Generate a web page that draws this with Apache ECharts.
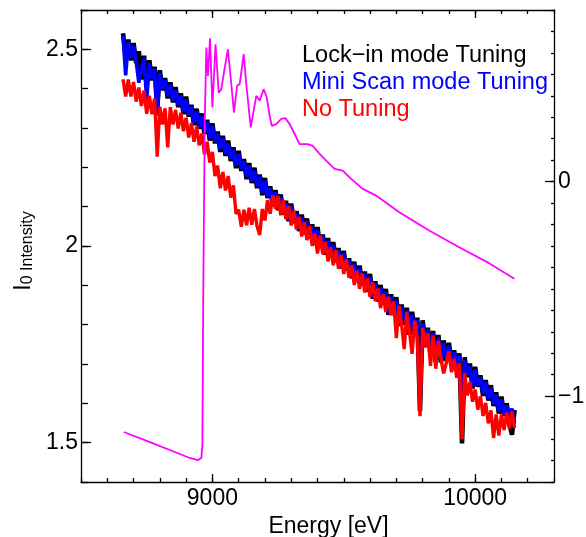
<!DOCTYPE html>
<html lang="en" style="background: #fff;height: 100%">
<head>
    <meta charset="utf-8"/>
    <title>I0 intensity vs energy</title>
    <script src="https://cdn.jsdelivr.net/npm/echarts@6/dist/echarts.min.js"></script>
</head>
<body style="margin: 0;height: 100%">
<div id="chart" style="width: 586px;height: 537px"></div>
<script>
    // energy grid of the three I0 scans [eV]
    const energy = [
        8660, 8670, 8680, 8690, 8700, 8710, 8720, 8730, 8740, 8750,
        8760, 8770, 8780, 8790, 8800, 8810, 8820, 8830, 8840, 8850,
        8860, 8870, 8880, 8890, 8900, 8910, 8920, 8930, 8940, 8950,
        8960, 8970, 8980, 8990, 9000, 9010, 9020, 9030, 9040, 9050,
        9060, 9070, 9080, 9090, 9100, 9110, 9120, 9130, 9140, 9150,
        9160, 9170, 9180, 9190, 9200, 9210, 9220, 9230, 9240, 9250,
        9260, 9270, 9280, 9290, 9300, 9310, 9320, 9330, 9340, 9350,
        9360, 9370, 9380, 9390, 9400, 9410, 9420, 9430, 9440, 9450,
        9460, 9470, 9480, 9490, 9500, 9510, 9520, 9530, 9540, 9550,
        9560, 9570, 9580, 9590, 9600, 9610, 9620, 9630, 9640, 9650,
        9660, 9670, 9680, 9690, 9700, 9710, 9720, 9730, 9740, 9750,
        9760, 9770, 9780, 9790, 9800, 9810, 9820, 9830, 9840, 9850,
        9860, 9870, 9880, 9890, 9900, 9910, 9920, 9930, 9940, 9950,
        9960, 9970, 9980, 9990, 10000, 10010, 10020, 10030, 10040, 10050,
        10060, 10070, 10080, 10090, 10100, 10110, 10120, 10130, 10140, 10150
    ];

    // Lock-in mode tuning (black)
    const lockIn = [
        2.541, 2.479, 2.525, 2.472, 2.516, 2.465, 2.495, 2.423, 2.484, 2.404,
        2.472, 2.421, 2.456, 2.347, 2.447, 2.396, 2.427, 2.375, 2.416, 2.365,
        2.404, 2.353, 2.388, 2.335, 2.380, 2.329, 2.359, 2.307, 2.349, 2.298,
        2.337, 2.285, 2.321, 2.268, 2.312, 2.261, 2.291, 2.239, 2.280, 2.229,
        2.268, 2.216, 2.251, 2.198, 2.242, 2.191, 2.221, 2.170, 2.211, 2.160,
        2.199, 2.147, 2.182, 2.129, 2.173, 2.122, 2.152, 2.101, 2.142, 2.091,
        2.131, 2.080, 2.115, 2.063, 2.108, 2.058, 2.089, 2.038, 2.080, 2.030,
        2.070, 2.019, 2.055, 2.003, 2.048, 1.998, 2.029, 1.978, 2.020, 1.970,
        2.010, 1.959, 1.995, 1.943, 1.988, 1.938, 1.969, 1.918, 1.960, 1.910,
        1.950, 1.899, 1.935, 1.884, 1.929, 1.866, 1.910, 1.859, 1.901, 1.851,
        1.891, 1.825, 1.877, 1.825, 1.870, 1.797, 1.851, 1.800, 1.843, 1.774,
        1.833, 1.782, 1.818, 1.580, 1.811, 1.761, 1.792, 1.722, 1.784, 1.705,
        1.774, 1.704, 1.760, 1.708, 1.754, 1.704, 1.735, 1.685, 1.727, 1.498,
        1.717, 1.667, 1.701, 1.638, 1.693, 1.642, 1.671, 1.619, 1.659, 1.607,
        1.646, 1.593, 1.628, 1.574, 1.617, 1.568, 1.600, 1.550, 1.520, 1.583
    ];

    // Mini Scan mode tuning (blue)
    const miniScan = [
        2.534, 2.434, 2.519, 2.478, 2.509, 2.469, 2.415, 2.449, 2.478, 2.369,
        2.465, 2.426, 2.450, 2.332, 2.440, 2.400, 2.422, 2.381, 2.410, 2.370,
        2.397, 2.358, 2.382, 2.341, 2.373, 2.333, 2.354, 2.313, 2.343, 2.303,
        2.330, 2.290, 2.315, 2.274, 2.305, 2.265, 2.286, 2.245, 2.274, 2.234,
        2.261, 2.221, 2.245, 2.204, 2.235, 2.195, 2.216, 2.176, 2.205, 2.165,
        2.192, 2.152, 2.176, 2.135, 2.166, 2.126, 2.147, 2.107, 2.136, 2.096,
        2.124, 2.085, 2.109, 2.069, 2.101, 2.062, 2.084, 2.044, 2.074, 2.035,
        2.063, 2.024, 2.049, 2.009, 2.041, 2.002, 2.024, 1.984, 2.014, 1.975,
        2.003, 1.964, 1.989, 1.949, 1.981, 1.942, 1.964, 1.924, 1.954, 1.915,
        1.943, 1.904, 1.929, 1.890, 1.922, 1.871, 1.905, 1.865, 1.895, 1.856,
        1.884, 1.830, 1.871, 1.831, 1.863, 1.802, 1.846, 1.806, 1.837, 1.779,
        1.826, 1.787, 1.812, 1.590, 1.804, 1.765, 1.787, 1.727, 1.778, 1.710,
        1.767, 1.709, 1.754, 1.714, 1.747, 1.708, 1.730, 1.691, 1.721, 1.548,
        1.710, 1.672, 1.695, 1.643, 1.686, 1.646, 1.666, 1.625, 1.653, 1.612,
        1.639, 1.598, 1.622, 1.580, 1.610, 1.572, 1.595, 1.556, 1.587, 1.549
    ];

    // No tuning (red)
    const noTuning = [
        2.424, 2.380, 2.423, 2.380, 2.417, 2.367, 2.403, 2.356, 2.395, 2.336,
        2.382, 2.335, 2.375, 2.227, 2.354, 2.309, 2.350, 2.251, 2.353, 2.309,
        2.346, 2.299, 2.339, 2.292, 2.326, 2.276, 2.312, 2.265, 2.304, 2.256,
        2.286, 2.233, 2.265, 2.212, 2.239, 2.178, 2.204, 2.147, 2.188, 2.141,
        2.178, 2.123, 2.154, 2.082, 2.092, 2.049, 2.092, 2.053, 2.097, 2.054,
        2.094, 2.050, 2.028, 2.094, 2.065, 2.117, 2.082, 2.129, 2.094, 2.127,
        2.078, 2.117, 2.068, 2.102, 2.052, 2.090, 2.042, 2.074, 2.024, 2.060,
        2.015, 2.051, 2.000, 2.032, 1.981, 2.027, 1.979, 2.011, 1.961, 1.997,
        1.951, 1.990, 1.942, 1.977, 1.929, 1.967, 1.919, 1.951, 1.901, 1.937,
        1.891, 1.930, 1.882, 1.918, 1.870, 1.908, 1.860, 1.892, 1.842, 1.878,
        1.832, 1.871, 1.824, 1.859, 1.766, 1.849, 1.801, 1.738, 1.831, 1.783,
        1.726, 1.810, 1.764, 1.567, 1.792, 1.742, 1.778, 1.695, 1.772, 1.688,
        1.759, 1.712, 1.676, 1.702, 1.732, 1.679, 1.713, 1.665, 1.702, 1.508,
        1.677, 1.620, 1.654, 1.604, 1.635, 1.584, 1.618, 1.568, 1.601, 1.549,
        1.582, 1.512, 1.572, 1.518, 1.572, 1.532, 1.576, 1.536, 1.579, 1.537
    ];

    // absorption spectrum on the right axis (magenta)
    const muEnergy = [
        8663, 8762, 8857, 8914, 8945, 8958, 8962, 8965, 8971, 8977,
        8983, 8991, 9000, 9012, 9024, 9034, 9043, 9059, 9072, 9082,
        9094, 9104, 9119, 9129, 9146, 9157, 9167, 9180, 9195, 9207,
        9218, 9226, 9243, 9262, 9278, 9294, 9313, 9332, 9363, 9382,
        9408, 9433, 9465, 9496, 9528, 9572, 9623, 9711, 9825, 9939,
        10053, 10149
    ];
    const muValue = [
        -1.167, -1.214, -1.260, -1.288, -1.298, -1.288, -1.228, -0.553, 0.284, 0.625,
        0.493, 0.668, 0.346, 0.640, 0.415, 0.431, 0.501, 0.617, 0.454, 0.322,
        0.447, 0.454, 0.594, 0.454, 0.253, 0.330, 0.400, 0.377, 0.431, 0.392,
        0.307, 0.260, 0.268, 0.292, 0.296, 0.268, 0.222, 0.175, 0.175, 0.167,
        0.129, 0.098, 0.059, 0.051, 0.013, -0.034, -0.065, -0.143, -0.228, -0.306,
        -0.380, -0.453
    ];

    const xMajor = [9000, 10000];
    const yMajor = [1.5, 2, 2.5];
    const y2Major = [-1, 0];
    const legendNames = ['Lock\u2212in mode Tuning', 'Mini Scan mode Tuning', 'No Tuning'];
    const legendColors = ['#000000', '#0000ff', '#ff0000'];

    const FONT = 'Liberation Sans, Arial, Helvetica, sans-serif';
    const frame = {color: '#000', width: 1.3};

    function pairs(xs, ys) {
        return xs.map((x, i) => [x, ys[i]]);
    }

    // an axis that only carries ticks (minor ticks or mirrored frame ticks)
    function tickAxis(pos, min, max, len, extra) {
        return Object.assign({
            type: 'value', position: pos, min: min, max: max,
            axisLine: {show: false, onZero: false},
            axisTick: {show: true, inside: true, length: len, lineStyle: frame},
            axisLabel: {show: false},
            splitLine: {show: false}
        }, extra);
    }

    function scan(name, values, color, width) {
        return {
            name: name, type: 'line', xAxisIndex: 0, yAxisIndex: 0,
            data: pairs(energy, values), showSymbol: false, symbol: 'none',
            lineStyle: {color: color, width: width, join: 'bevel'}, itemStyle: {color: color}
        };
    }

    let chart = echarts.init(document.getElementById('chart'), null, {renderer: 'canvas'});

    chart.setOption({
        animation: false,
        backgroundColor: '#fff',
        textStyle: {fontFamily: FONT},
        grid: {left: 81, right: 32, top: 10, bottom: 55, outerBoundsMode: 'none'},
        legend: {
            orient: 'vertical', left: 297, top: 42, padding: 0, itemGap: 0,
            itemWidth: 0, itemHeight: 0, icon: 'rect', selectedMode: false,
            textStyle: {fontSize: 23.5, lineHeight: 27, fontFamily: FONT},
            data: legendNames.map((n, i) => ({name: n, textStyle: {color: legendColors[i]}}))
        },
        xAxis: [
            {
                type: 'value', position: 'bottom', min: 8500, max: 10300,
                axisLine: {show: true, onZero: false, lineStyle: frame},
                axisTick: {show: true, inside: true, length: 8, customValues: xMajor, lineStyle: frame},
                axisLabel: {
                    customValues: xMajor, fontSize: 23, color: '#000', margin: 5, fontFamily: FONT,
                    formatter: v => String(v)
                },
                splitLine: {show: false},
                name: 'Energy [eV]', nameLocation: 'middle', nameGap: 23,
                nameTextStyle: {fontSize: 23, color: '#000', fontFamily: FONT, padding: [0, 0, 0, 22]}
            },
            tickAxis('bottom', 8500, 10300, 4, {interval: 100}),
            tickAxis('top', 8500, 10300, 8, {
                axisLine: {show: true, onZero: false, lineStyle: frame},
                axisTick: {show: true, inside: true, length: 8, customValues: xMajor, lineStyle: frame}
            }),
            tickAxis('top', 8500, 10300, 4, {interval: 100})
        ],
        yAxis: [
            {
                type: 'value', position: 'left', min: 1.4, max: 2.6,
                axisLine: {show: true, onZero: false, lineStyle: frame},
                axisTick: {show: true, inside: true, length: 10, customValues: yMajor, lineStyle: frame},
                axisLabel: {customValues: yMajor, fontSize: 23, color: '#000', margin: 3, fontFamily: FONT},
                splitLine: {show: false},
                name: '{a|I}{b|0 Intensity}', nameLocation: 'middle', nameRotate: 90, nameGap: 42,
                nameTextStyle: {
                    padding: [0, 10, 0, 0],
                    rich: {
                        a: {fontSize: 23, color: '#000', fontFamily: FONT},
                        b: {fontSize: 16, color: '#000', fontFamily: FONT, verticalAlign: 'bottom'}
                    }
                }
            },
            tickAxis('left', 1.4, 2.6, 7, {interval: 0.1}),
            {
                type: 'value', position: 'right', min: -1.4, max: 0.8,
                axisLine: {show: true, onZero: false, lineStyle: frame},
                axisTick: {show: true, inside: true, length: 9, customValues: y2Major, lineStyle: frame},
                axisLabel: {
                    customValues: y2Major, fontSize: 23, color: '#000', margin: 4, fontFamily: FONT,
                    formatter: v => (v < 0 ? '\u2212' + Math.abs(v) : String(v))
                },
                splitLine: {show: false}
            },
            tickAxis('right', -1.4, 0.8, 3, {interval: 0.1})
        ],
        series: [
            scan(legendNames[0], lockIn, legendColors[0], 4.6),
            scan(legendNames[1], miniScan, legendColors[1], 3.6),
            scan(legendNames[2], noTuning, legendColors[2], 3.4),
            {
                name: 'mu', type: 'line', xAxisIndex: 0, yAxisIndex: 2,
                data: pairs(muEnergy, muValue), showSymbol: false, symbol: 'none',
                lineStyle: {color: '#ff00ff', width: 1.8}, itemStyle: {color: '#ff00ff'}
            }
        ]
    });
</script>
</body>
</html>
